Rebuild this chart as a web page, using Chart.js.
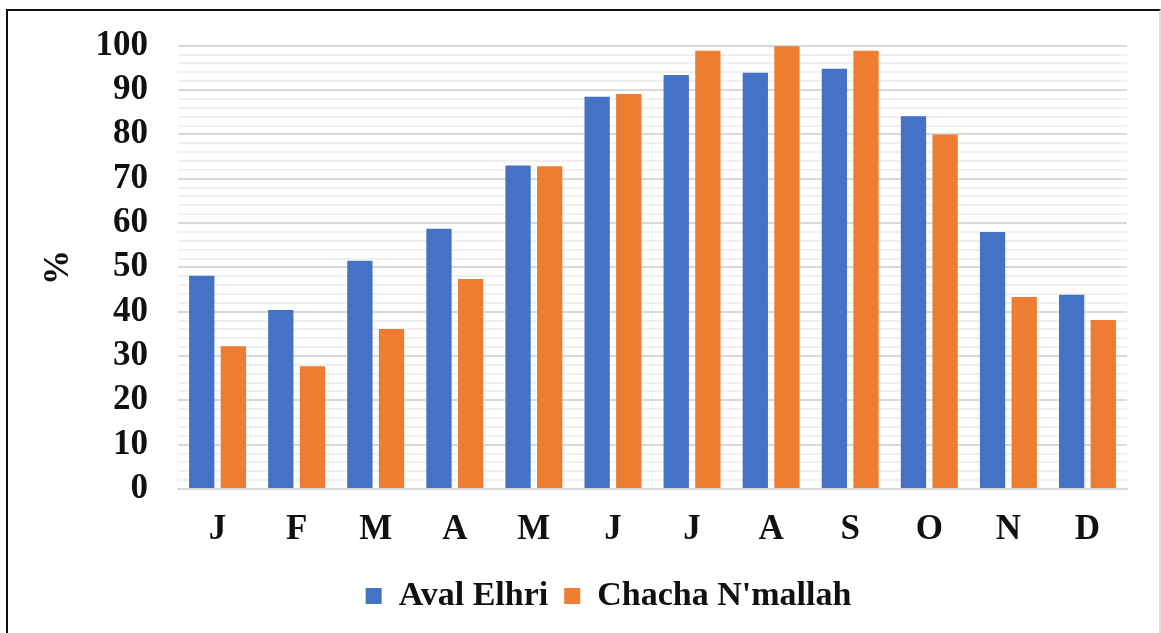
<!DOCTYPE html>
<html>
<head>
<meta charset="utf-8">
<script src="https://cdn.jsdelivr.net/npm/chart.js@4/dist/chart.umd.min.js"></script>
<style>
  html, body { margin: 0; padding: 0; background: #fff; overflow: hidden; }
  #wrap { position: relative; width: 1161px; height: 633px; }
  #frame {
    position: absolute; left: 6px; top: 9px; width: 1151px; height: 700px;
    border-left: 2px solid #111; border-top: 2px solid #111; border-right: 2px solid #ddd;
    pointer-events: none;
  }
</style>
</head>
<body>
<div id="wrap">
  <canvas id="barChart" width="1161" height="633"></canvas>
  <div id="frame"></div>
</div>
<script>
const months = ['J', 'F', 'M', 'A', 'M', 'J', 'J', 'A', 'S', 'O', 'N', 'D'];
const avalElhri = [48.1, 40.4, 51.5, 58.7, 73.0, 88.5, 93.4, 93.9, 94.8, 84.1, 58.0, 43.8];
const chachaNmallah = [32.2, 27.7, 36.1, 47.4, 72.8, 89.1, 98.9, 99.9, 98.9, 80.0, 43.3, 38.1];
const seriesNames = ['Aval Elhri', "Chacha N'mallah"];

const serif = 'Liberation Serif, Times New Roman, serif';
const ctx = document.getElementById('barChart');

// legend sits centred under the plot, not the whole canvas
const shiftLegend = {
  id: 'shiftLegend',
  afterLayout(chart) {
    const dx = 30;
    chart.legend.left += dx;
    chart.legend.right += dx;
  }
};

new Chart(ctx, {
  type: 'bar',
  data: {
    labels: months,
    datasets: [{
      label: seriesNames[0],
      data: avalElhri,
      backgroundColor: '#4472C4',
      categoryPercentage: 0.8,
      barPercentage: 0.8
    }, {
      label: seriesNames[1],
      data: chachaNmallah,
      backgroundColor: '#ED7D31',
      categoryPercentage: 0.8,
      barPercentage: 0.8
    }]
  },
  options: {
    responsive: false,
    animation: false,
    layout: { padding: { left: 30, right: 34, top: 11, bottom: 10 } },
    plugins: {
      tooltip: { enabled: false },
      legend: {
        position: 'bottom',
        labels: {
          color: '#111',
          font: { family: serif, size: 34, weight: 'bold' },
          boxWidth: 16,
          boxHeight: 16,
          padding: 16
        }
      }
    },
    scales: {
      x: {
        grid: { display: false },
        border: { color: '#d9d9d9', width: 2 },
        ticks: {
          color: '#111',
          padding: 12,
          font: { family: serif, size: 35, weight: 'bold' }
        }
      },
      y: {
        min: 0,
        max: 100,
        border: { display: false },
        grid: {
          drawTicks: false,
          lineWidth: 2,
          color: c => (c.tick && c.tick.value % 10 === 0) ? '#d9d9d9' : '#f0f0f0'
        },
        ticks: {
          stepSize: 2,
          autoSkip: false,
          padding: 30,
          color: '#111',
          font: { family: serif, size: 35, weight: 'bold', lineHeight: 0.9 },
          callback: v => (v % 10 === 0 ? v : '')
        },
        title: {
          display: true,
          text: '%',
          color: '#111',
          padding: { top: 8, bottom: 0 },
          font: { family: serif, size: 35, weight: 'bold' }
        },
        afterFit: scale => { scale.width = 148; }
      }
    }
  },
  plugins: [shiftLegend]
});
</script>
</body>
</html>
